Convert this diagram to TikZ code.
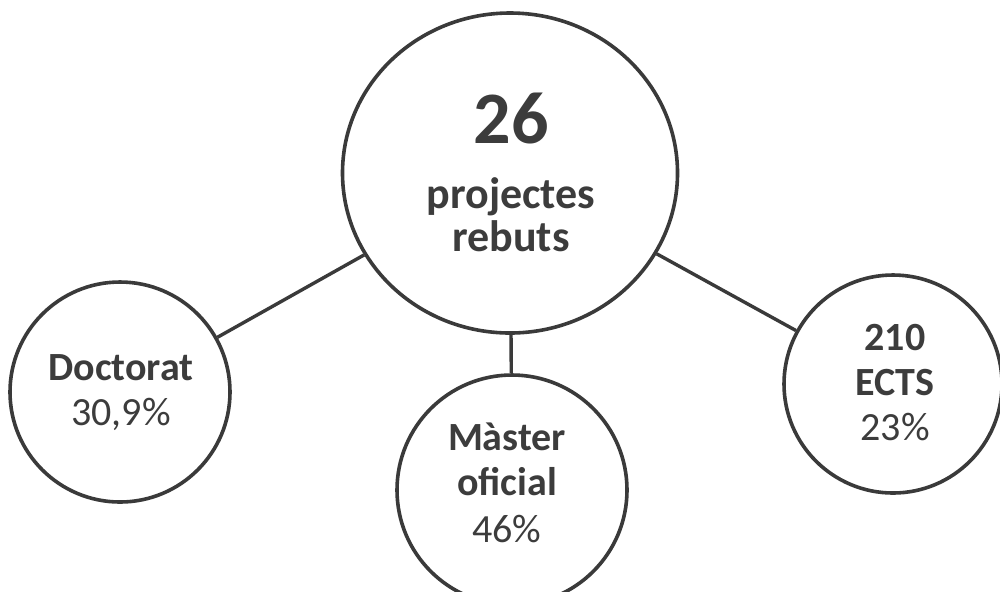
\documentclass[tikz,border=0pt]{standalone}
\usepackage{fontspec}
\setmainfont{Carlito}
\usetikzlibrary{shapes.geometric}
\definecolor{ink}{HTML}{3A3A3A}
\definecolor{txt}{HTML}{3C3C3C}
\begin{document}
\begin{tikzpicture}[x=0.5pt,y=-0.5pt,
  bubble/.style={circle,draw=ink,line width=1.8pt,inner sep=0pt,fill=white},
  link/.style={draw=ink,line width=1.7pt},
  lbl/.style={anchor=base,inner sep=0pt,text=txt,font=\fontsize{20pt}{22pt}\selectfont},
  blbl/.style={lbl,font=\fontsize{20pt}{22pt}\selectfont\bfseries}]
\useasboundingbox (0,0) rectangle (1000,591);
\node[ellipse,draw=ink,line width=1.8pt,inner sep=0pt,minimum width=167.5pt,minimum height=160pt] (main) at (510,173) {};
\node[bubble,minimum size=110pt] (doc) at (120,392) {};
\node[bubble,minimum size=115pt] (mas) at (512,490) {};
\node[bubble,minimum size=109pt] (ects) at (893,384) {};
\draw[link] (main) -- (doc);
\draw[link] (main) -- (mas);
\draw[link] (main) -- (ects);
% main texts
\node[lbl,font=\fontsize{37pt}{40pt}\selectfont\bfseries] (n26) at (511,143) {26};
\node[lbl,font=\fontsize{22pt}{24pt}\selectfont\bfseries] (proj) at (511,208) {projectes};
\node[lbl,font=\fontsize{22pt}{24pt}\selectfont\bfseries] (reb) at (511,251) {rebuts};
% doctorat
\node[blbl] (doct) at (121,380) {Doctorat};
\node[lbl] (docp) at (121,425) {30,9\%};
% master
\node[blbl] (mast) at (507,450) {Màster};
\node[blbl] (ofic) at (507,495) {oficial};
\node[lbl] (masp) at (507,542) {46\%};
% ects
\node[blbl] (n210) at (895,350) {210};
\node[blbl] (ectt) at (895,395) {ECTS};
\node[lbl] (ectp) at (895,440) {23\%};
\end{tikzpicture}
\end{document}
